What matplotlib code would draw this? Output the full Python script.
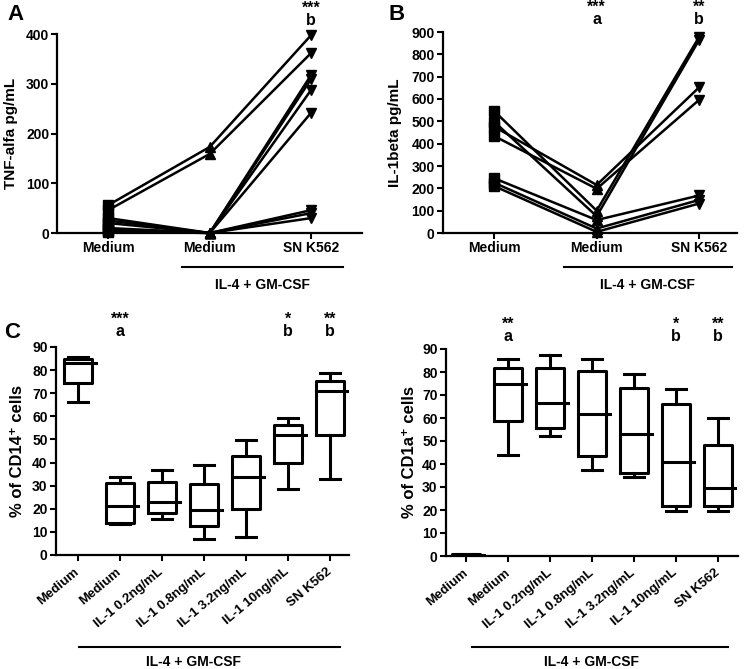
import matplotlib
matplotlib.use('Agg')
import matplotlib.pyplot as plt
from matplotlib.transforms import blended_transform_factory

plt.rcParams['font.family'] = ['Liberation Sans', 'DejaVu Sans']
plt.rcParams['font.weight'] = 'bold'
plt.rcParams['axes.labelweight'] = 'bold'
plt.rcParams['axes.linewidth'] = 1.6

# Panel A - TNF-alfa (one value per donor)
tnf_groups = ['Medium', 'Medium', 'SN K562']
tnf_medium = [56, 46, 30, 25, 20, 10, 8, 5, 3]
tnf_il4 = [173, 159, 0, 0, 0, 0, 0, 0, 0]
tnf_sn = [398, 362, 318, 310, 288, 242, 46, 40, 30]

# Panel B - IL-1beta
il1_groups = ['Medium', 'Medium', 'SN K562']
il1_medium = [546, 498, 476, 434, 245, 225, 210]
il1_il4 = [100, 75, 215, 198, 58, 20, 5]
il1_sn = [878, 864, 652, 596, 168, 148, 132]

# Panel C - box plots
c_labels = ['Medium', 'Medium', 'IL-1 0.2ng/mL', 'IL-1 0.8ng/mL',
            'IL-1 3.2ng/mL', 'IL-1 10ng/mL', 'SN K562']
cd14_min = [66, 13.5, 15.4, 7.1, 7.6, 28.4, 32.8]
cd14_q1 = [74.5, 14, 18, 12.5, 19.9, 40, 51.9]
cd14_med = [83, 21, 23, 19.5, 33.6, 51.9, 71]
cd14_q3 = [85, 31, 31.5, 30.6, 42.8, 56.4, 75.3]
cd14_max = [85.8, 33.9, 36.8, 38.8, 49.8, 59.3, 78.9]

cd1a_min = [0, 43.9, 52.2, 37.4, 34.2, 19.6, 19.6]
cd1a_q1 = [0, 58.8, 55.8, 43.5, 36.2, 21.7, 21.7]
cd1a_med = [0.4, 74.8, 66.4, 61.7, 52.9, 41, 29.7]
cd1a_q3 = [0.8, 81.6, 81.6, 80.4, 73.2, 66, 48.3]
cd1a_max = [0.9, 85.5, 87.4, 85.5, 79.1, 72.5, 60.1]

# significance marks: (category index, stars, letter)
tnf_sig = [(2, '***', 'b')]
il1_sig = [(1, '***', 'a'), (2, '**', 'b')]
cd14_sig = [(1, '***', 'a'), (5, '*', 'b'), (6, '**', 'b')]
cd1a_sig = [(1, '**', 'a'), (5, '*', 'b'), (6, '**', 'b')]

W, H = 750, 669
fig = plt.figure(figsize=(7.5, 6.69), dpi=100)


def px_axes(left, right, top, bottom):
    return fig.add_axes([left / W, 1 - bottom / H, (right - left) / W, (bottom - top) / H])


def style(ax):
    ax.spines['top'].set_visible(False)
    ax.spines['right'].set_visible(False)
    ax.tick_params(direction='out', length=4, width=1.5, labelsize=10, pad=2)


def bold_ticks(ax):
    for t in ax.get_xticklabels() + ax.get_yticklabels():
        t.set_fontweight('bold')


def sig_marks(ax, sig, y_base):
    # y_base: pixel offset of the letter baseline above the top of the axes
    tr = blended_transform_factory(ax.transData, ax.transAxes)
    h = ax.get_position().height * H
    for i, stars, letter in sig:
        ax.text(i, 1 + y_base / h, stars + '\n' + letter, transform=tr, ha='center',
                va='baseline', fontsize=11.5, linespacing=0.75, multialignment='center',
                clip_on=False)


def underline(ax, x0, x1, y_line, x_text, y_text):
    tr = blended_transform_factory(ax.transData, ax.transAxes)
    ax.plot([x0, x1], [y_line, y_line], color='black', lw=1.5, transform=tr, clip_on=False)
    ax.text(x_text, y_text, 'IL-4 + GM-CSF', transform=tr, ha='center', va='center', fontsize=10)


def paired(ax, cols, groups, ymax, step, ylabel):
    n = len(cols[0])
    for d in range(n):
        ax.plot([0, 1, 2], [cols[0][d], cols[1][d], cols[2][d]], color='black', lw=1.8,
                clip_on=False, zorder=2)
    for k, m in enumerate(['s', '^', 'v']):
        ax.plot([k] * n, cols[k], linestyle='none', marker=m, markersize=7, color='black',
                clip_on=False, zorder=3)
    ax.set_xticks([0, 1, 2])
    ax.set_xticklabels(groups, fontsize=10)
    ax.set_ylim(0, ymax)
    ax.set_yticks(range(0, ymax + 1, step))
    ax.set_ylabel(ylabel, fontsize=11)
    bold_ticks(ax)


# ---- Panel A
axA = px_axes(57.5, 362, 34, 233)
style(axA)
paired(axA, [tnf_medium, tnf_il4, tnf_sn], tnf_groups, 400, 100, 'TNF-alfa pg/mL')
axA.set_xlim(-0.5, 2.5)
axA.yaxis.set_label_coords(-0.13, 0.5)
sig_marks(axA, tnf_sig, 9)
underline(axA, 0.73, 2.31, -0.17, 1.52, -0.26)
fig.text(15 / W, 1 - 15 / H, 'A', fontsize=16, ha='center', va='center')

# ---- Panel B
axB = px_axes(443, 737, 32, 233)
style(axB)
paired(axB, [il1_medium, il1_il4, il1_sn], il1_groups, 900, 100, 'IL-1beta pg/mL')
axB.set_xlim(-0.5, 2.37)
axB.yaxis.set_label_coords(-0.14, 0.5)
sig_marks(axB, il1_sig, 8)
underline(axB, 0.68, 2.32, -0.17, 1.5, -0.26)
fig.text(397 / W, 1 - 15 / H, 'B', fontsize=16, ha='center', va='center')


# ---- Panel C
def boxes(ax, mins, q1, med, q3, maxs, ylabel):
    stats = []
    for i in range(len(mins)):
        stats.append({'whislo': mins[i], 'q1': q1[i], 'med': med[i], 'q3': q3[i],
                      'whishi': maxs[i], 'fliers': []})
    pos = list(range(len(stats)))
    props = dict(color='black', linewidth=2.2)
    ax.bxp(stats, positions=pos, widths=0.67, showfliers=False,
           boxprops=props, whiskerprops=props, capprops=props,
           medianprops=dict(linewidth=0), capwidths=0.46, manage_ticks=False)
    # GraphPad style median line, slightly overhanging the box on the right
    for i in pos:
        ax.plot([i - 0.335, i + 0.42], [med[i], med[i]], color='black', lw=2.2)
    ax.set_xticks(pos)
    ax.set_xticklabels(c_labels, rotation=40, ha='right', va='center',
                       rotation_mode='anchor', fontsize=9.5)
    ax.tick_params(axis='x', pad=7)
    ax.set_ylim(0, 90)
    ax.set_yticks(range(0, 91, 10))
    ax.set_ylabel(ylabel, fontsize=12)
    bold_ticks(ax)


axC1 = px_axes(56, 349, 347, 555)
style(axC1)
boxes(axC1, cd14_min, cd14_q1, cd14_med, cd14_q3, cd14_max, '% of CD14⁺ cells')
axC1.set_xlim(-0.52, 6.45)
axC1.yaxis.set_label_coords(-0.105, 0.5)
sig_marks(axC1, cd14_sig, 11)
underline(axC1, 0.02, 6.24, -0.442, 2.74, -0.514)
fig.text(12 / W, 1 - 332 / H, 'C', fontsize=16, ha='center', va='center')

axC2 = px_axes(446, 738, 349, 556)
style(axC2)
boxes(axC2, cd1a_min, cd1a_q1, cd1a_med, cd1a_q3, cd1a_max, '% of CD1a⁺ cells')
axC2.set_xlim(-0.48, 6.48)
axC2.yaxis.set_label_coords(-0.1, 0.5)
sig_marks(axC2, cd1a_sig, 8)
underline(axC2, 0.14, 6.24, -0.442, 3.0, -0.514)

fig.savefig('out.png', dpi=100)
